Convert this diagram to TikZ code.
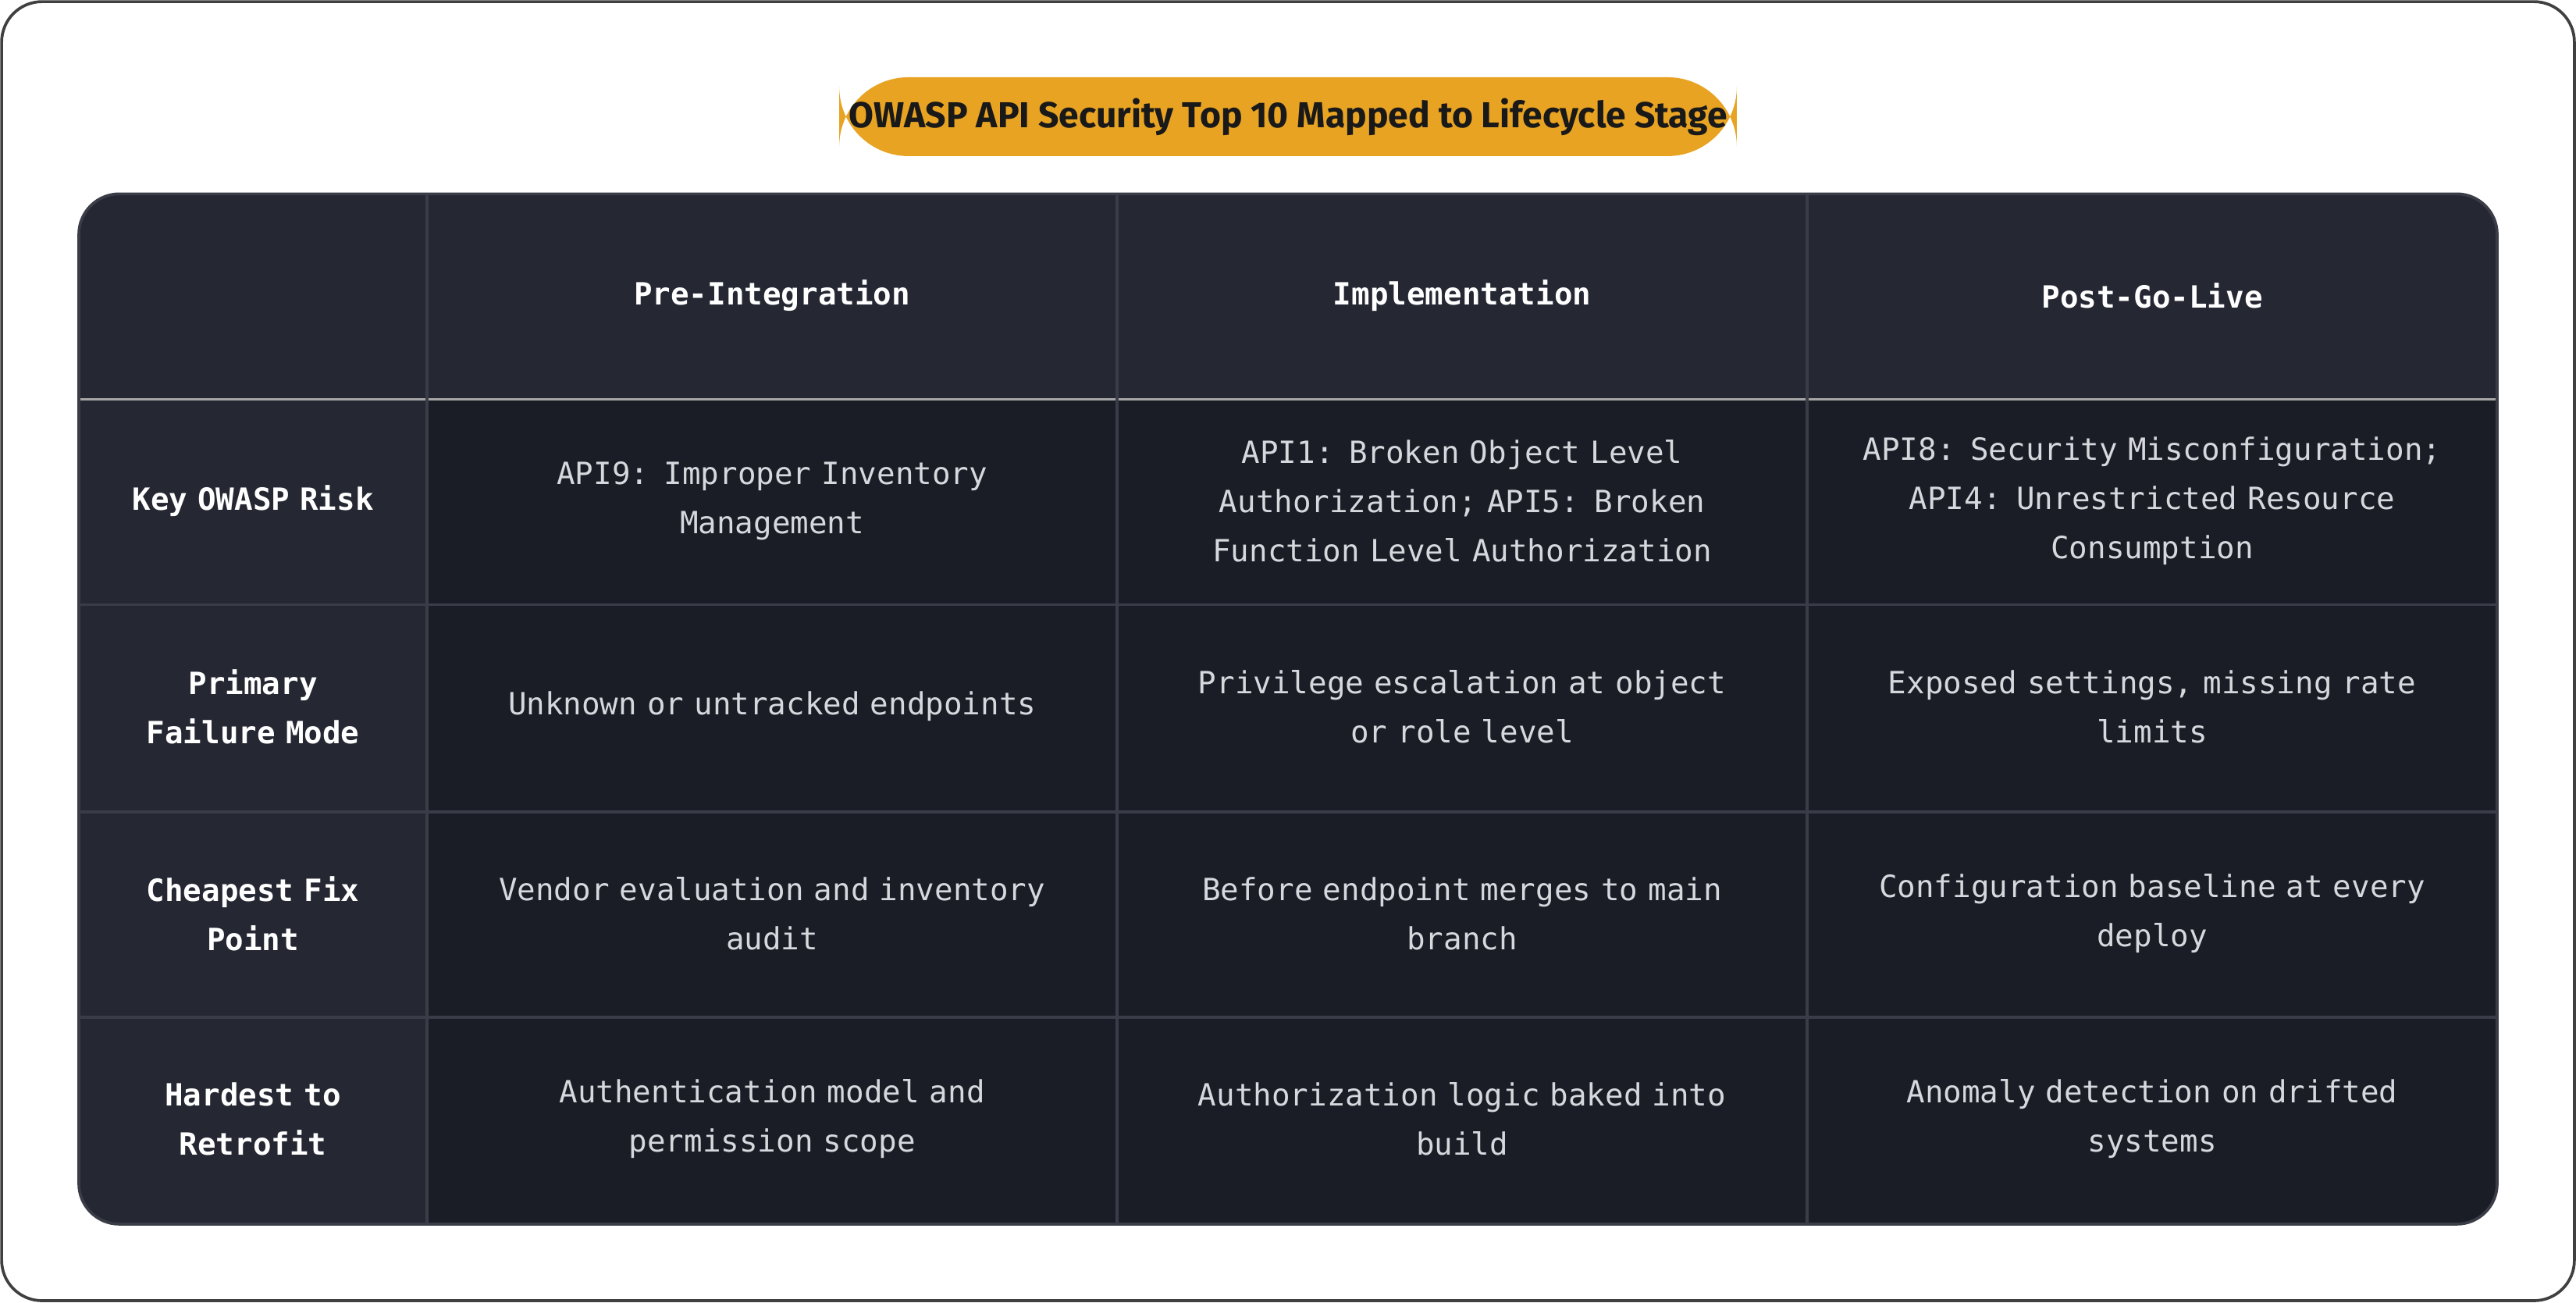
\documentclass[tikz,border=0pt]{standalone}
\usepackage{fontspec}
\setmainfont{Fira Sans}
\newfontfamily\mono{DejaVu Sans Mono}
\begin{document}
\begin{tikzpicture}[x=0.02cm,y=-0.02cm,
  hdr/.style={font=\mono\bfseries\fontsize{10.6}{17}\selectfont, text=white, align=center},
  cell/.style={font=\mono\fontsize{10.6}{17}\selectfont, text=celltxt, align=center, text width=7.6cm},
  rowh/.style={font=\mono\bfseries\fontsize{10.6}{17}\selectfont, text=white, align=center, text width=3.8cm}]
\definecolor{hdrbg}{HTML}{252833}
\definecolor{bodybg}{HTML}{1B1D26}
\definecolor{gridc}{HTML}{3A3D48}
\definecolor{celltxt}{HTML}{D6D8DE}
\definecolor{orng}{HTML}{E8A323}
\useasboundingbox (0,0) rectangle (1568,792.6);
\draw[draw=black!75, line width=1pt, rounded corners=14] (1,1) rectangle (1567,791.6);
% title
\node[fill=orng, rounded corners=24, minimum width=10.64cm, minimum height=0.96cm, font=\bfseries\fontsize{12.5}{15}\selectfont, text=black!90] (title) at (784,71) {OWASP API Security Top 10 Mapped to Lifecycle Stage};
% table background
\fill[bodybg, rounded corners=14] (48,118) rectangle (1520,745);
\begin{scope}
\clip[rounded corners=14] (48,118) rectangle (1520,745);
\fill[hdrbg] (48,118) rectangle (1520,243);
\fill[hdrbg] (48,118) rectangle (260,745);
\foreach \y in {368,494,619} \draw[gridc, line width=1pt] (48,\y) -- (1520,\y);
\draw[gray!70, line width=1pt] (48,243) -- (1520,243);
\foreach \x in {260,680,1100} \draw[gridc, line width=1pt] (\x,118) -- (\x,745);
\end{scope}
\draw[gridc, line width=1pt, rounded corners=14] (48,118) rectangle (1520,745);
% header
\node[hdr] (h1) at (470,180) {Pre-Integration};
\node[hdr] (h2) at (890,180) {Implementation};
\node[hdr] (h3) at (1310,180) {Post-Go-Live};
% row heads
\node[rowh] (r1) at (154,305) {Key OWASP Risk};
\node[rowh] (r2) at (154,430) {Primary\\Failure Mode};
\node[rowh] (r3) at (154,556) {Cheapest Fix\\Point};
\node[rowh] (r4) at (154,681) {Hardest to\\Retrofit};
% cells
\node[cell] (c11) at (470,305) {API9: Improper Inventory\\Management};
\node[cell] (c12) at (890,305) {API1: Broken Object Level\\Authorization; API5: Broken\\Function Level Authorization};
\node[cell] (c13) at (1310,305) {API8: Security Misconfiguration;\\API4: Unrestricted Resource\\Consumption};
\node[cell] (c21) at (470,430) {Unknown or untracked endpoints};
\node[cell] (c22) at (890,430) {Privilege escalation at object\\or role level};
\node[cell] (c23) at (1310,430) {Exposed settings, missing rate\\limits};
\node[cell] (c31) at (470,556) {Vendor evaluation and inventory\\audit};
\node[cell] (c32) at (890,556) {Before endpoint merges to main\\branch};
\node[cell] (c33) at (1310,556) {Configuration baseline at every\\deploy};
\node[cell] (c41) at (470,681) {Authentication model and\\permission scope};
\node[cell] (c42) at (890,681) {Authorization logic baked into\\build};
\node[cell] (c43) at (1310,681) {Anomaly detection on drifted\\systems};
\end{tikzpicture}
\end{document}
